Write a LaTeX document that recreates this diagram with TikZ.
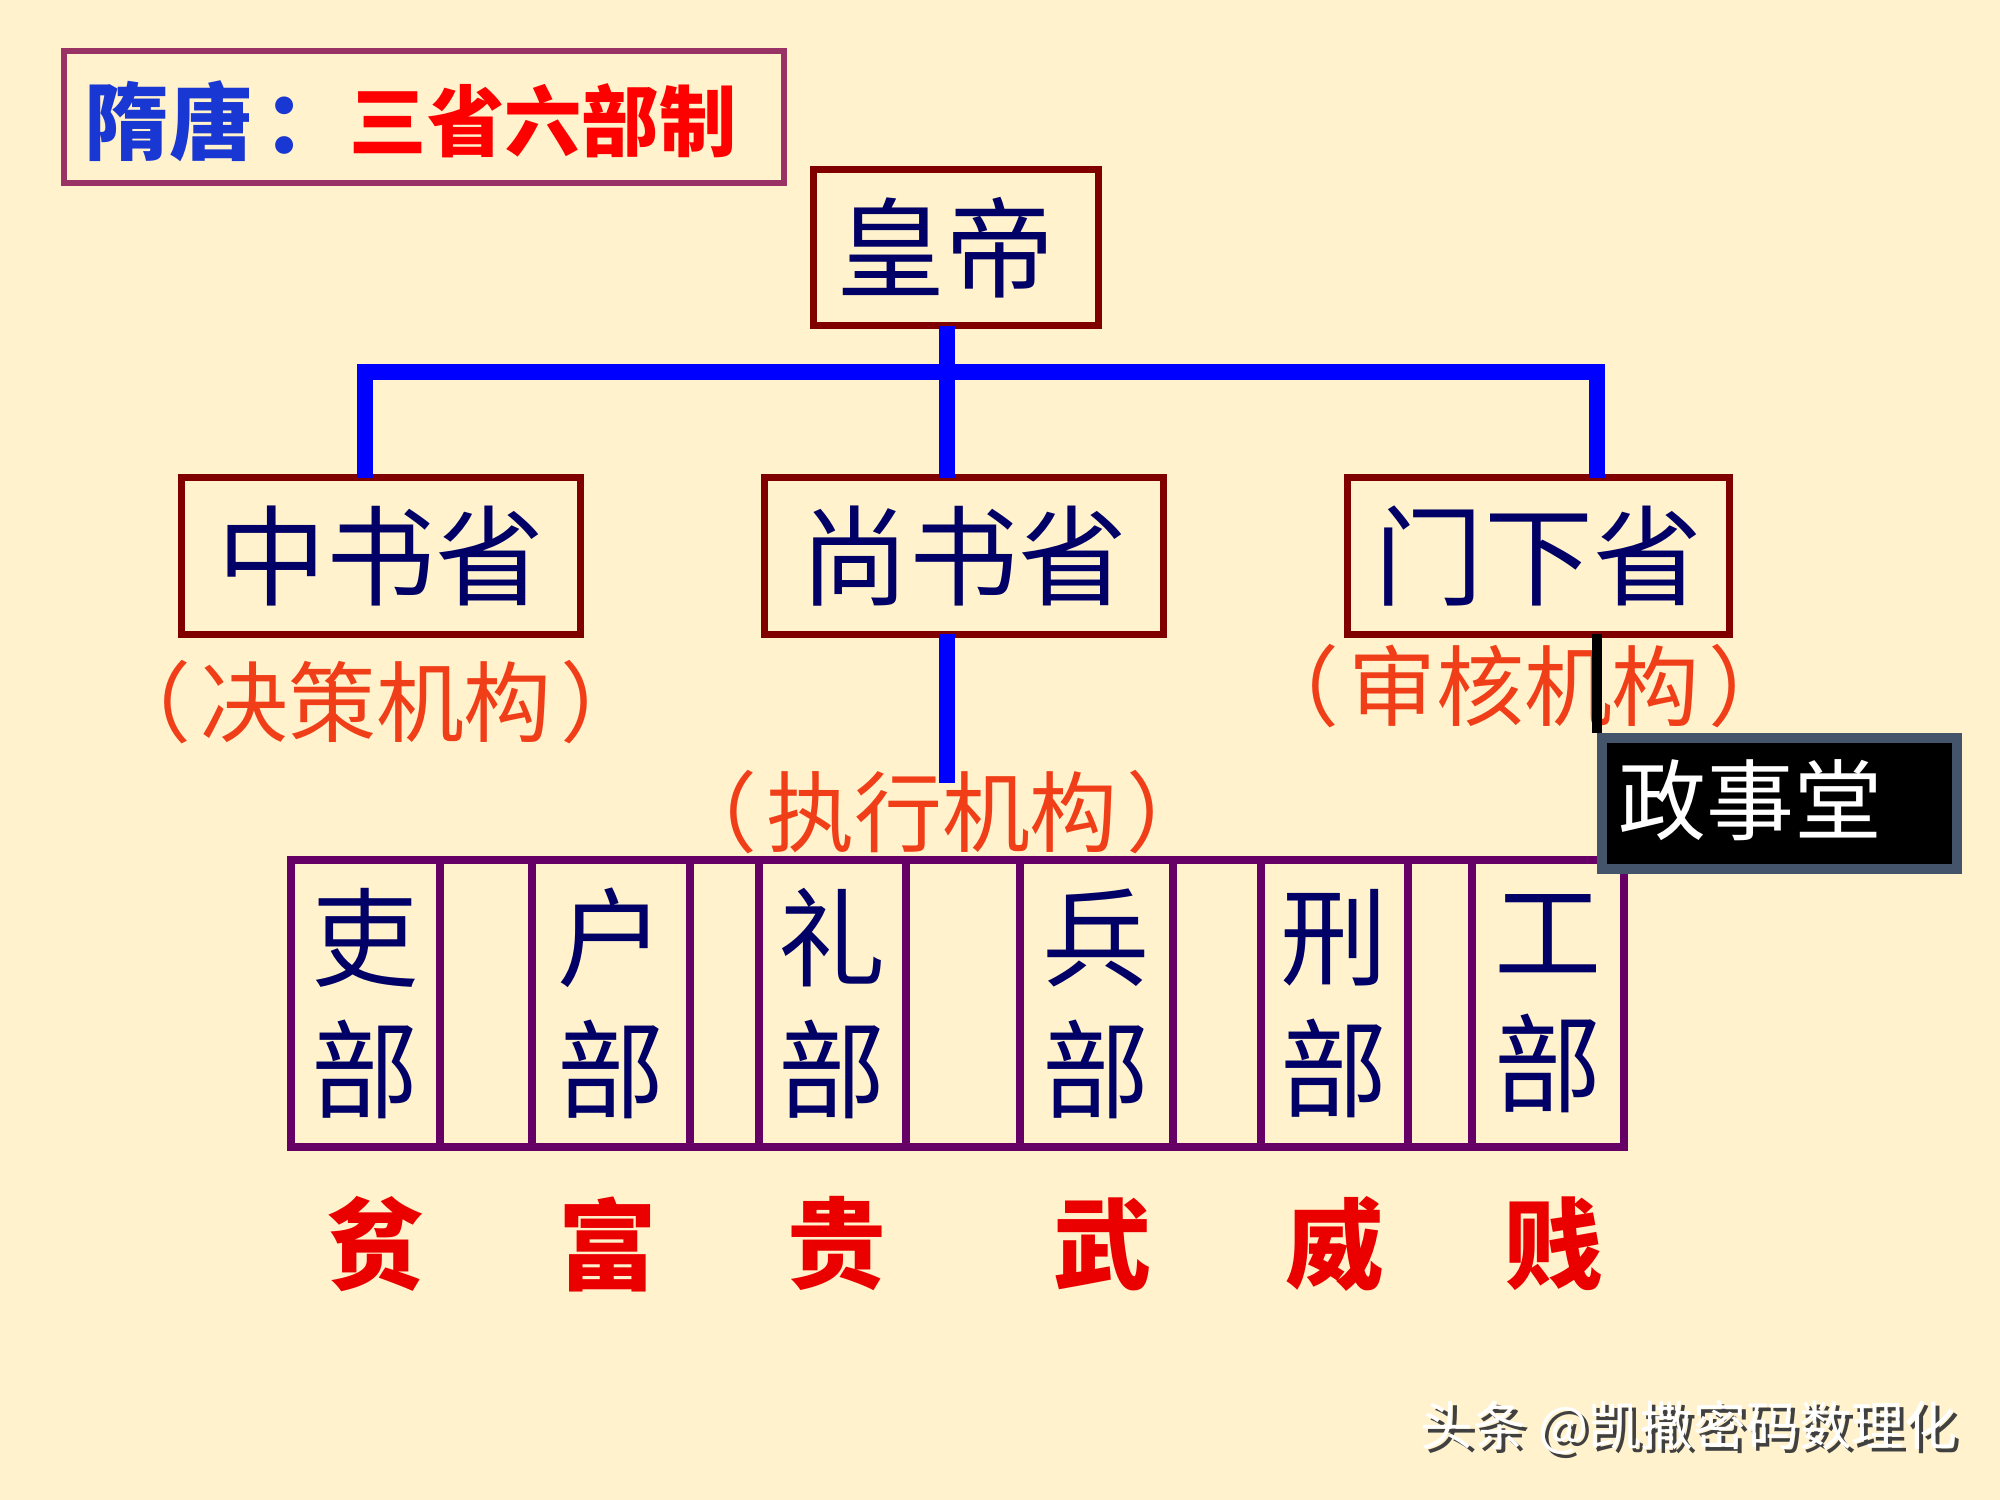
\documentclass[tikz,border=0pt]{standalone}
\usepackage{fontspec}
\setmainfont{Noto Sans CJK SC}
\definecolor{bg}{RGB}{255,242,204}
\definecolor{boxred}{RGB}{128,0,0}
\definecolor{navy}{RGB}{0,0,102}
\definecolor{pureblue}{RGB}{0,0,255}
\definecolor{orangered}{RGB}{240,62,24}
\definecolor{tagred}{RGB}{235,0,0}
\definecolor{titleblue}{RGB}{25,55,210}
\definecolor{titleborder}{RGB}{153,51,102}
\definecolor{deptpurple}{RGB}{102,0,102}
\definecolor{slate}{RGB}{68,84,106}
\tikzset{
  sheng/.style={draw=boxred, line width=2pt, inner sep=0pt, outer sep=0pt,
    minimum height=1.56cm, text=navy, font=\fontsize{31}{36}\selectfont},
  blueline/.style={draw=pureblue, line width=4.6pt, line join=miter},
  blackline/.style={draw=black, line width=3pt},
  deptcol/.style={draw=deptpurple, line width=2.4pt, inner sep=0pt, outer sep=0pt,
    minimum height=2.87cm, text=navy, align=center, font=\fontsize{30.5}{37.5}\selectfont},
  jigou/.style={text=orangered, inner sep=0pt, font=\fontsize{25}{29}\selectfont},
  tag/.style={text=tagred, inner sep=0pt, font=\bfseries\fontsize{28}{32}\selectfont},
  titletext/.style={inner sep=0pt, anchor=west, font=\bfseries\fontsize{22}{26}\selectfont}
}
\begin{document}
\begin{tikzpicture}[x=0.01cm,y=-0.01cm]
\fill[bg] (0,0) rectangle (2000,1500);
\useasboundingbox (0,0) rectangle (2000,1500);

% title
\node[draw=titleborder, line width=1.8pt, minimum width=7.2cm, minimum height=1.32cm, inner sep=0pt] (titlebox) at (424,117) {};
\node[titletext, text=titleblue, font=\bfseries\fontsize{24}{28}\selectfont] (t1) at (84,121) {隋唐\kern0.12em：};
\node[titletext, text=red] (t2) at (349,121) {三省六部制};

% boxes
\node[sheng, minimum width=2.84cm] (huangdi) at (956,247.5) {\kern-0.2em皇帝};
\node[sheng, minimum width=3.98cm] (zhongshu) at (381,556) {中书省};
\node[sheng, minimum width=3.98cm] (shangshu) at (964,556) {尚书省};
\node[sheng, minimum width=3.81cm] (menxia) at (1538.5,556) {门下省};

% labels
\node[jigou] (jc) at (376,702) {（\hspace{0.1em}决策机构\hspace{0.1em}）};
\node[jigou] (zx) at (942,812) {（\hspace{0.1em}执行机构\hspace{0.1em}）};
\node[jigou] (sh) at (1524,686) {（\hspace{0.1em}审核机构\hspace{0.1em}）};

% blue connectors
\coordinate (cx) at (947,372);
\coordinate (lx) at (365,372);
\coordinate (rx) at (1597,372);
\coordinate (cend) at (947,783);
\draw[blueline] (zhongshu.north -| lx) -- (lx) -- (rx) -- (menxia.north -| rx);
\draw[blueline] (huangdi.south -| cx) -- (shangshu.north -| cx);
\draw[blueline] (shangshu.south -| cx) -- (cend);

% six departments
\node[deptcol, minimum width=1.49cm] (li)   at (365.5,1003.5) {吏\\部};
\node[deptcol, minimum width=0.92cm] (e1)   at (486,1003.5) {};
\node[deptcol, minimum width=1.58cm] (hu)   at (611,1003.5) {户\\部};
\node[deptcol, minimum width=0.69cm] (e2)   at (724.5,1003.5) {};
\node[deptcol, minimum width=1.47cm] (lib)  at (832.5,1003.5) {礼\\部};
\node[deptcol, minimum width=1.14cm] (e3)   at (963,1003.5) {};
\node[deptcol, minimum width=1.53cm] (bing) at (1096.5,1003.5) {兵\\部};
\node[deptcol, minimum width=0.88cm] (e4)   at (1217,1003.5) {};
\node[deptcol, minimum width=1.47cm] (xing) at (1334.5,1003.5) {刑\\部};
\node[deptcol, minimum width=0.64cm] (e5)   at (1440,1003.5) {};
\node[deptcol, minimum width=1.52cm] (gong) at (1548,1003.5) {工\\部};

% tags
\node[tag] (pin)  at (376,1244) {贫};
\node[tag] (fu)   at (608,1244) {富};
\node[tag] (gui)  at (837,1244) {贵};
\node[tag] (wu)   at (1103,1244) {武};
\node[tag] (wei)  at (1335,1244) {威};
\node[tag] (jian) at (1554,1244) {贱};

% zhengshitang
\node[draw=slate, fill=black, line width=2.8pt, minimum width=3.55cm, minimum height=1.31cm, inner sep=0pt] (zst) at (1779.5,803.5) {};
\draw[blackline] (menxia.south -| zst.west) -- (zst.north west);
\node[text=white, anchor=west, inner sep=0pt, font=\fontsize{25}{30}\selectfont] (zsttext) at (1618,800) {政事堂};

% watermark
\node[anchor=east, inner sep=0pt, font=\fontsize{15}{18}\selectfont] (wm) at (1958,1430)
  {\rlap{\kern1.2pt\raisebox{-1.2pt}{\color{black!75}头条 @凯撒密码数理化}}\color{white}头条 @凯撒密码数理化};
\end{tikzpicture}
\end{document}
